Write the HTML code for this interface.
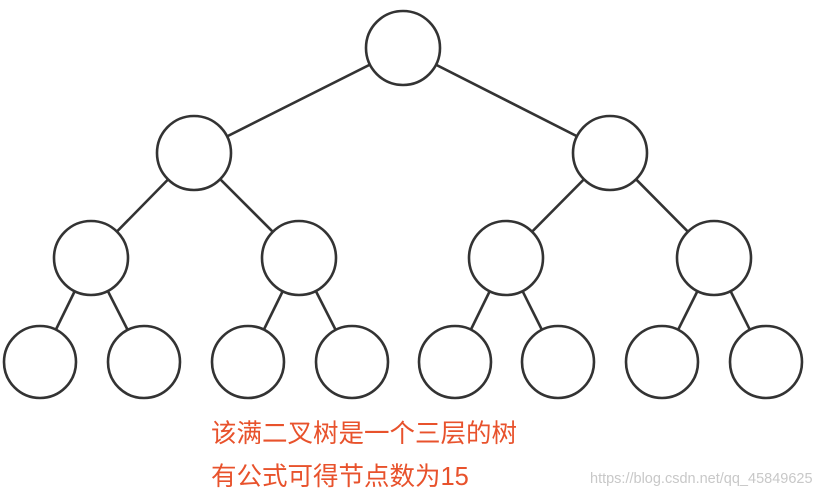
<!DOCTYPE html>
<html><head><meta charset="utf-8"><style>
body{margin:0;width:819px;height:501px;background:#fff;overflow:hidden;position:relative}
svg{position:absolute;left:0;top:0}
.t{position:absolute;left:211px;font-family:"Liberation Sans","Noto Sans CJK SC",sans-serif;font-size:25.5px;color:#e8522c;line-height:1;white-space:nowrap}
.w{position:absolute;left:590px;top:471px;font-family:"Liberation Sans",sans-serif;font-size:14.5px;color:#c8c8c8;white-space:nowrap}
</style></head><body>
<svg width="819" height="501" stroke="#333" stroke-width="2.6" fill="#fff">
<g>
<line x1="403" y1="48" x2="194" y2="153"/><line x1="403" y1="48" x2="610" y2="153"/>
<line x1="194" y1="153" x2="91" y2="258"/><line x1="194" y1="153" x2="299" y2="258"/>
<line x1="610" y1="153" x2="506" y2="258"/><line x1="610" y1="153" x2="714" y2="258"/>
<line x1="91" y1="258" x2="40" y2="362"/><line x1="91" y1="258" x2="144" y2="362"/>
<line x1="299" y1="258" x2="248" y2="362"/><line x1="299" y1="258" x2="352" y2="362"/>
<line x1="506" y1="258" x2="455" y2="362"/><line x1="506" y1="258" x2="558" y2="362"/>
<line x1="714" y1="258" x2="662" y2="362"/><line x1="714" y1="258" x2="766" y2="362"/>
</g>
<circle cx="403" cy="48" r="37"/>
<circle cx="194" cy="153" r="37"/><circle cx="610" cy="153" r="37"/>
<circle cx="91" cy="258" r="37"/><circle cx="299" cy="258" r="37"/><circle cx="506" cy="258" r="37"/><circle cx="714" cy="258" r="37"/>
<circle cx="40" cy="362" r="36"/><circle cx="144" cy="362" r="36"/><circle cx="248" cy="362" r="36"/><circle cx="352" cy="362" r="36"/>
<circle cx="455" cy="362" r="36"/><circle cx="558" cy="362" r="36"/><circle cx="662" cy="362" r="36"/><circle cx="766" cy="362" r="36"/>
</svg>
<div class="t" style="top:422px">该满二叉树是一个三层的树</div>
<div class="t" style="top:465px">有公式可得节点数为15</div>
<div class="w">https://blog.csdn.net/qq_45849625</div>
</body></html>
